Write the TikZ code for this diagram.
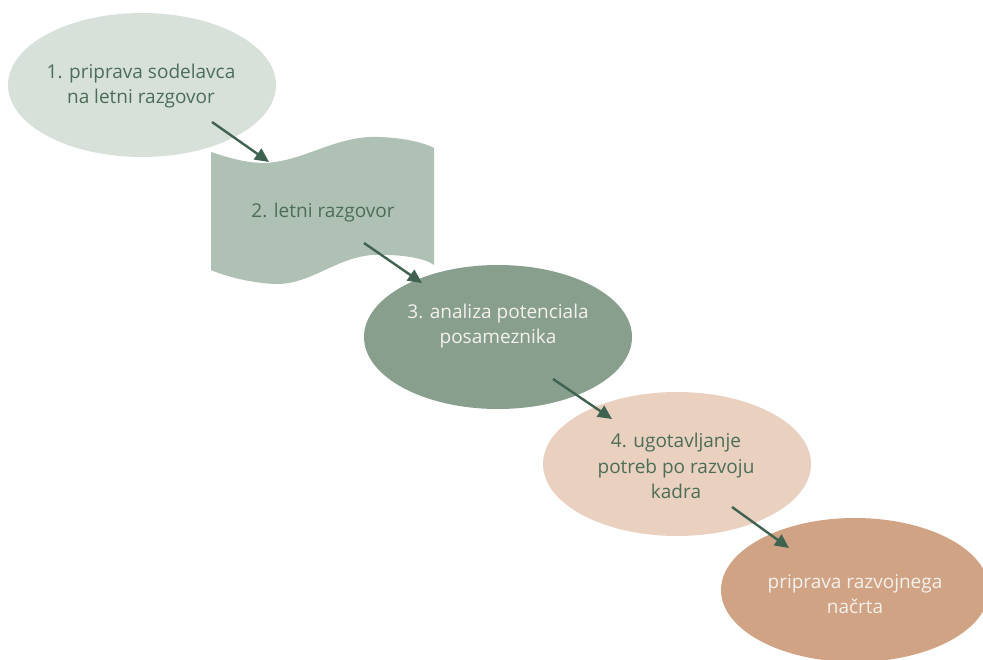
\documentclass[tikz,border=0pt]{standalone}
\usepackage{fontspec}
\setmainfont{Open Sans}
\usetikzlibrary{shapes.geometric,arrows.meta}
\definecolor{stepA}{HTML}{D7E1DA}
\definecolor{stepB}{HTML}{AFC0B4}
\definecolor{stepC}{HTML}{889F8E}
\definecolor{stepD}{HTML}{E9D0BF}
\definecolor{stepE}{HTML}{D1A385}
\definecolor{darkgreen}{HTML}{3F6350}
\definecolor{textgreen}{HTML}{4C6E58}
\definecolor{lighttext}{HTML}{F4F1EC}
\tikzset{
  blob/.style={ellipse, draw=none, minimum width=268pt, minimum height=144pt, inner sep=0pt},
  steptext/.style={align=center, font=\fontsize{19}{25.5}\selectfont, text=textgreen},
  flowarrow/.style={draw=darkgreen, line width=2.4pt, -{Triangle[length=14pt,width=13pt]}, shorten >=0pt}
}
\begin{document}
\begin{tikzpicture}[x=1pt,y=-1pt]
\useasboundingbox (0,0) rectangle (983,660);

% step 1
\node[blob, fill=stepA] (e1) at (142,85) {};
\node[steptext] (t1) at (141,86) {1. priprava sodelavca\\na letni razgovor};

% step 2: waving banner
\path[fill=stepB] (211,152)
  .. controls (235,160) and (255,165) .. (275,162)
  .. controls (310,157) and (340,135) .. (380,137)
  .. controls (405,138) and (425,143) .. (434,148)
  -- (434,265)
  .. controls (425,258) and (400,254) .. (372,255)
  .. controls (335,258) and (310,285) .. (275,284)
  .. controls (250,283) and (225,276) .. (211,270) -- cycle;
\node[steptext] (t2) at (323,213) {2. letni razgovor};

% step 3
\node[blob, fill=stepC] (e3) at (498,337) {};
\node[steptext, text=lighttext] (t3) at (498,326) {3. analiza potenciala\\posameznika};

% step 4
\node[blob, fill=stepD] (e4) at (677,464) {};
\node[steptext] (t4) at (676,466) {4. ugotavljanje\\potreb po razvoju\\kadra};

% step 5
\node[blob, fill=stepE] (e5) at (855,590) {};
\node[steptext, text=lighttext] (t5) at (855,594) {priprava razvojnega\\načrta};

% connectors
\coordinate (a1s) at (212,122);
\coordinate (a1e) at (269,162);
\coordinate (a2s) at (364,243);
\coordinate (a2e) at (422,283);
\coordinate (a3s) at (553,379);
\coordinate (a3e) at (612,419);
\coordinate (a4s) at (732,507);
\coordinate (a4e) at (789,548);
\draw[flowarrow] (a1s) -- (a1e);
\draw[flowarrow] (a2s) -- (a2e);
\draw[flowarrow] (a3s) -- (a3e);
\draw[flowarrow] (a4s) -- (a4e);
\end{tikzpicture}
\end{document}
